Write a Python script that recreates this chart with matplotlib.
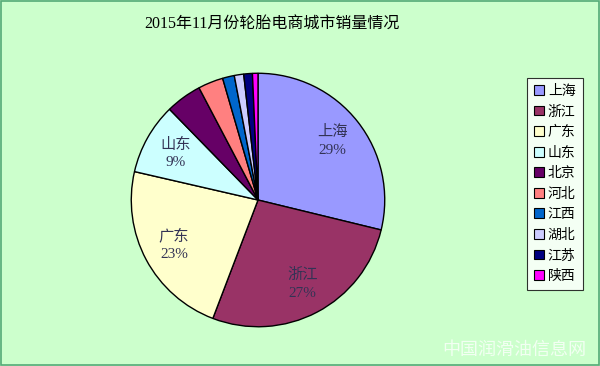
import matplotlib.pyplot as plt
from matplotlib.patches import Rectangle

plt.rcParams['font.family'] = ['Liberation Serif', 'Noto Sans CJK SC', 'DejaVu Sans']

cities = ['上海', '浙江', '广东', '山东', '北京', '河北', '江西', '湖北', '江苏', '陕西']
shares = [28.8, 27.0, 22.8, 9.1, 4.6, 3.2, 1.5, 1.2, 1.1, 0.7]
colors = ['#9999FF', '#993366', '#FFFFCC', '#CCFFFF', '#660066',
          '#FF8080', '#0066CC', '#CCCCFF', '#000080', '#FF00FF']
title = '2015年11月份轮胎电商城市销量情况'

fig = plt.figure(figsize=(6, 3.66), dpi=100)
fig.patch.set_facecolor('#CCFFCC')
fig.patches.append(Rectangle((0.002, 0.003), 0.996, 0.994, transform=fig.transFigure,
                             fill=False, edgecolor='#55AA77', linewidth=1.2))

fig.text(272 / 600, 1 - 25 / 366, title, ha='center', va='center',
         fontsize=11.5, fontweight='medium', color='#000000')

cx, cy, r = 258, 366 - 200, 128
ax = fig.add_axes([(cx - r) / 600, (cy - r) / 366, 2 * r / 600, 2 * r / 366])
ax.set_facecolor('none')

names = iter(cities)


def fmt(p):
    n = next(names)
    return f'{n}\n{p:.0f}%' if p >= 5 else ''


wedges, texts, autotexts = ax.pie(shares, colors=colors, startangle=90, counterclock=False,
                                  autopct=fmt, pctdistance=0.75,
                                  wedgeprops=dict(edgecolor='black', linewidth=1.0),
                                  textprops=dict(fontsize=11, color='#333355', linespacing=1.5))
ax.set_xlim(-1.01, 1.01)
ax.set_ylim(-1.01, 1.01)

leg = fig.legend(wedges, cities, loc='upper left',
                 bbox_to_anchor=(527 / 600, 1 - 78 / 366),
                 frameon=True, fancybox=False, edgecolor='black', facecolor='white',
                 fontsize=10, handlelength=0.7, handleheight=0.7, handletextpad=0.3,
                 labelspacing=0.54, borderpad=0.5, borderaxespad=0)
leg.get_frame().set_linewidth(0.8)
for h in leg.legend_handles:
    h.set_edgecolor('black')
    h.set_linewidth(0.8)

fig.text(514 / 600, 1 - 350 / 366, '中国润滑油信息网', ha='center', va='center',
         fontsize=13, color='white', alpha=0.75)

fig.savefig('out.png', dpi=100, facecolor=fig.get_facecolor())
